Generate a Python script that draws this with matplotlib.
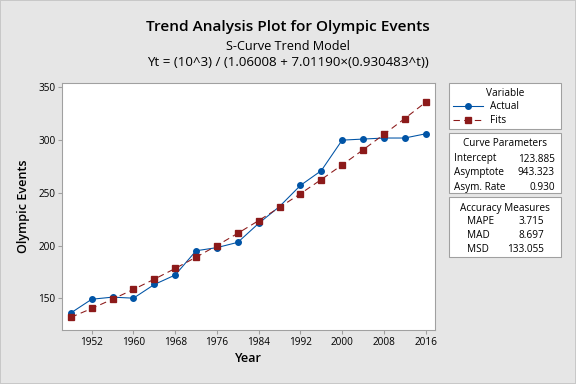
import matplotlib.pyplot as plt
from matplotlib.patches import Rectangle

plt.rcParams['font.family'] = ['Open Sans', 'DejaVu Sans']

years = [1948, 1952, 1956, 1960, 1964, 1968, 1972, 1976, 1980,
         1984, 1988, 1992, 1996, 2000, 2004, 2008, 2012, 2016]
actual = [136, 149, 151, 150, 163, 172, 195, 198, 203,
          221, 237, 257, 271, 300, 301, 302, 302, 306]
fits = [131.85, 140.23, 149.05, 158.32, 168.04, 178.22, 188.87, 199.99, 211.58,
        223.64, 236.17, 249.15, 262.59, 276.46, 290.75, 305.43, 320.50, 335.92]

xticks = [1952, 1960, 1968, 1976, 1984, 1992, 2000, 2008, 2016]
yticks = [150, 200, 250, 300, 350]

curve_names = ['Intercept', 'Asymptote', 'Asym. Rate']
curve_vals = ['123.885', '943.323', '0.930']
acc_names = ['MAPE', 'MAD', 'MSD']
acc_vals = ['3.715', '8.697', '133.055']

blue = '#0054a6'
red = '#8c1a1a'
bg = '#e6e6e6'
edge = '#a0a0a0'

fig = plt.figure(figsize=(6, 4), dpi=96, facecolor=bg)
fig.patches.append(Rectangle((0, 0), 1, 1, transform=fig.transFigure,
                             fill=False, edgecolor='#c8c8c8', lw=1.5))
ax = fig.add_axes([0.1076, 0.1406, 0.6476, 0.6432])

la, = ax.plot(years, actual, '-o', color=blue, lw=0.8, ms=4.2, label='Actual')
lf, = ax.plot(years, fits, '--s', color=red, lw=0.8, ms=4.2, dashes=(6, 4), label='Fits')

ax.set_xlim(1946.3, 2017.8)
ax.set_ylim(119.8, 354.2)
ax.set_xticks(xticks)
ax.set_yticks(yticks)
ax.tick_params(labelsize=7.5, length=3, color=edge, pad=2)
for s in ax.spines.values():
    s.set_color(edge)
ax.set_xlabel('Year', fontsize=9.5, fontweight='semibold', labelpad=3)
ax.set_ylabel('Olympic Events', fontsize=9.5, fontweight='semibold', labelpad=6)

fig.text(0.5, 1 - 27 / 384, 'Trend Analysis Plot for Olympic Events', ha='center',
         va='center', fontsize=11.5, fontweight='semibold')
fig.text(0.5, 1 - 46 / 384, 'S-Curve Trend Model', ha='center', va='center', fontsize=9.5)
fig.text(0.5, 1 - 62 / 384, 'Yt = (10^3) / (1.06008 + 7.01190\u00d7(0.930483^t))',
         ha='center', va='center', fontsize=10)

# side boxes (pixel coords converted to figure fraction)
W, H = 576, 384
def box(x0, y0, x1, y1):
    fig.patches.append(Rectangle((x0 / W, 1 - y1 / H), (x1 - x0) / W, (y1 - y0) / H,
                                 transform=fig.transFigure, facecolor='white',
                                 edgecolor=edge, lw=0.8))

box(449, 83, 561, 129)
box(449, 133, 561, 193)
box(449, 197, 561, 257)

fs = 7.5
fig.text(505 / W, 1 - 94 / H, 'Variable', ha='center', va='center', fontsize=fs)
leg = fig.legend(handles=[la, lf], loc='upper left', bbox_to_anchor=(452 / W, 1 - 100 / H),
                 frameon=False, fontsize=fs, handlelength=3.0, handletextpad=0.7,
                 labelspacing=0.3, borderpad=0.1, borderaxespad=0)

fig.text(505 / W, 1 - 144 / H, 'Curve Parameters', ha='center', va='center', fontsize=fs)
for i, (n, v) in enumerate(zip(curve_names, curve_vals)):
    y = 1 - (159 + i * 14) / H
    fig.text(454 / W, y, n, ha='left', va='center', fontsize=fs)
    fig.text(555 / W, y, v, ha='right', va='center', fontsize=fs)

fig.text(505 / W, 1 - 208 / H, 'Accuracy Measures', ha='center', va='center', fontsize=fs)
for i, (n, v) in enumerate(zip(acc_names, acc_vals)):
    y = 1 - (222 + i * 14) / H
    fig.text(467 / W, y, n, ha='left', va='center', fontsize=fs)
    fig.text(544 / W, y, v, ha='right', va='center', fontsize=fs)

fig.savefig('out.png', dpi=96, facecolor=bg)
